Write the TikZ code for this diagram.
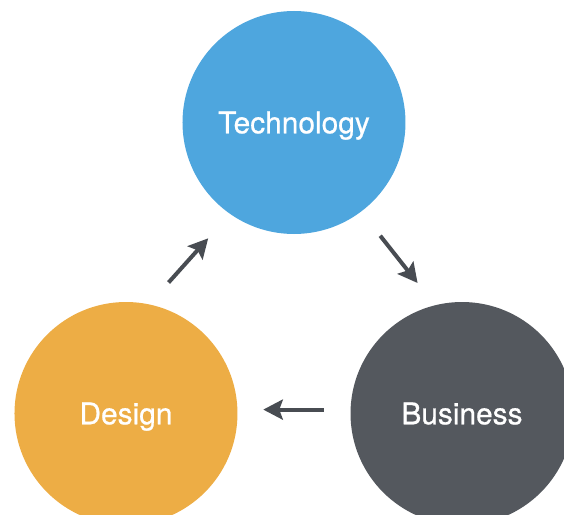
\documentclass[tikz,border=0pt]{standalone}
\usepackage{fontspec}
\setmainfont{TeX Gyre Heros}[BoldFont={TeX Gyre Heros}, BoldFeatures={FakeBold=0.7}]
\usepackage{tikz}
\usetikzlibrary{arrows.meta}

\definecolor{techblue}{RGB}{78,166,222}
\definecolor{designorange}{RGB}{237,173,69}
\definecolor{bizgray}{RGB}{84,88,94}
\definecolor{arrgray}{RGB}{72,76,82}

\begin{document}
\begin{tikzpicture}
    \tikzstyle{blob}=[circle, minimum size=4.46cm, inner sep=0pt, text=white, text height=0.43cm, text depth=0pt, font=\fontsize{17}{20}\selectfont\bfseries];
    \tikzstyle{arr}=[draw=arrgray, line width=0.08cm, -{Stealth[length=0.39cm, width=0.4cm, inset=0.07cm]}];
    \pgfmathsetmacro{\rad}{3.88}
    \useasboundingbox (-5.88,-3.97) rectangle (5.40,6.33);
    \foreach \n/\i/\col/\lbl in {tech/0/techblue/Technology, design/1/designorange/Design, biz/2/bizgray/Business} {
      \node[blob, fill=\col] (\n) at (90+\i*120:\rad) {\lbl};
    }
    \foreach \a/\b/\s/\e in {design.78/tech.235/0.58/0.65, tech.-53/biz.104/0.61/0.56, biz.178/design.2/0.53/0.51} {
      \draw[arr, shorten <=\s cm, shorten >=\e cm] (\a) -- (\b);
    }
  \end{tikzpicture}
\end{document}
